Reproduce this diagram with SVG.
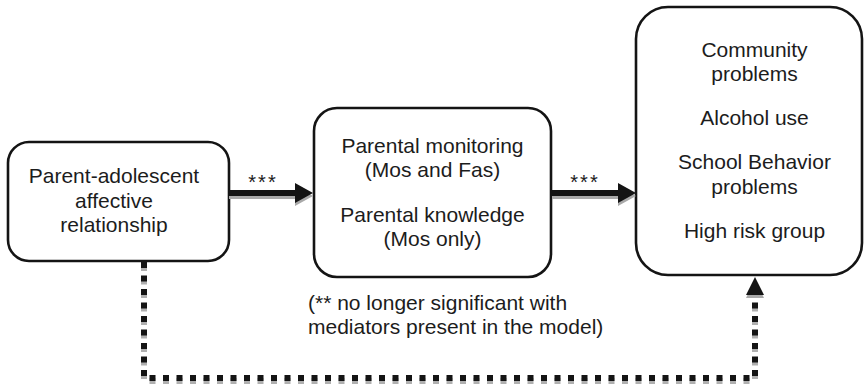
<svg xmlns="http://www.w3.org/2000/svg" width="865" height="388" viewBox="0 0 865 388">
  <defs>
    <style>
      .box { fill: #ffffff; stroke: #141414; stroke-width: 2.6; }
      .lbl { font-family: "Liberation Sans", Arial, sans-serif; font-size: 21px; fill: #1c1c1c; text-anchor: middle; }
      .note { font-family: "Liberation Sans", Arial, sans-serif; font-size: 21px; fill: #1c1c1c; }
      .star { font-family: "Liberation Sans", Arial, sans-serif; font-size: 20px; fill: #1c1c1c; text-anchor: middle; letter-spacing: 2px; }
      .shaft { fill: #141414; }
      .shadow { fill: #a9a9a9; }
      .dots { fill: none; stroke: #141414; stroke-width: 6; stroke-dasharray: 6 7.5; }
      .dots-shadow { fill: none; stroke: #b0b0b0; stroke-width: 6; stroke-dasharray: 6 7.5; }
    </style>
    <!-- solid block arrow pointing right, tip at origin -->
    <path id="block-arrow" d="M-84,-3 H-18 V-10 L0,0 L-18,10 V3 H-84 Z"/>
  </defs>

  <!-- nodes -->
  <g id="node-relationship">
    <rect class="box" x="8" y="142" width="221" height="119" rx="21" ry="21"/>
    <text class="lbl" x="114" y="183">Parent-adolescent</text>
    <text class="lbl" x="114" y="208">affective</text>
    <text class="lbl" x="114" y="232">relationship</text>
  </g>

  <g id="node-mediators">
    <rect class="box" x="314" y="108" width="237" height="169" rx="23" ry="23"/>
    <text class="lbl" x="432.5" y="153">Parental monitoring</text>
    <text class="lbl" x="432.5" y="177">(Mos and Fas)</text>
    <text class="lbl" x="432.5" y="222">Parental knowledge</text>
    <text class="lbl" x="432.5" y="246">(Mos only)</text>
  </g>

  <g id="node-outcomes">
    <rect class="box" x="636" y="7" width="226" height="268" rx="32" ry="32"/>
    <text class="lbl" x="754.5" y="57">Community</text>
    <text class="lbl" x="754.5" y="81">problems</text>
    <text class="lbl" x="754.5" y="125">Alcohol use</text>
    <text class="lbl" x="754.5" y="169">School Behavior</text>
    <text class="lbl" x="754.5" y="194">problems</text>
    <text class="lbl" x="754.5" y="238">High risk group</text>
  </g>

  <g id="note">
    <text class="note" x="308" y="310">(** no longer significant with</text>
    <text class="note" x="308" y="334">mediators present in the model)</text>
  </g>

  <!-- connectors -->
  <g id="connectors">
    <!-- direct path: relationship to outcomes, dotted -->
    <path class="dots-shadow" d="M144,262 V378 H755 V296" transform="translate(0,3)"/>
    <path class="dots" d="M144,262 V378 H755 V296"/>
    <path class="shadow" d="M746,298 L755,280 L764,298 Z"/>
    <path class="shaft" d="M746,295 L755,277 L764,295 Z"/>

    <!-- relationship to mediators -->
    <use href="#block-arrow" class="shadow" transform="translate(313,196)"/>
    <use href="#block-arrow" class="shaft" transform="translate(313,193)"/>
    <text class="star" x="263" y="189">***</text>

    <!-- mediators to outcomes -->
    <use href="#block-arrow" class="shadow" transform="translate(636,196)"/>
    <use href="#block-arrow" class="shaft" transform="translate(636,193)"/>
    <text class="star" x="585" y="189">***</text>
  </g>
</svg>
